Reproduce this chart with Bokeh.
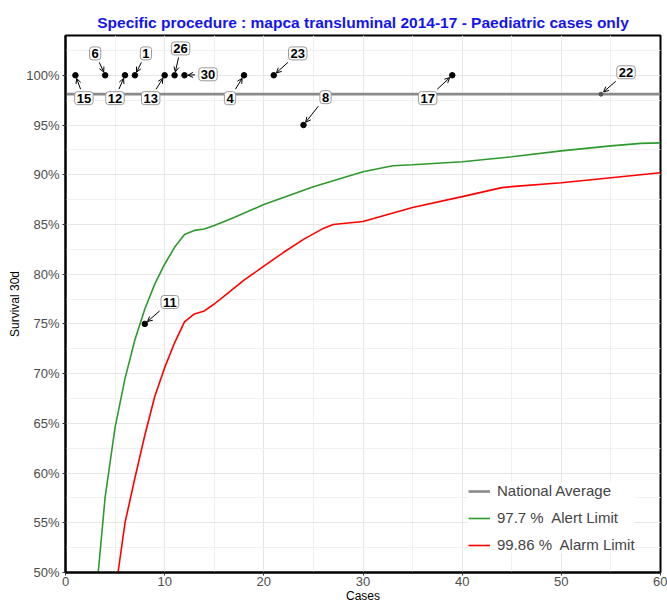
import math
from bokeh.plotting import figure
from bokeh.models import Range1d, Label, Arrow, OpenHead, Legend, LegendItem, FixedTicker
from bokeh.embed import file_html
from bokeh.resources import INLINE

TITLE = "Specific procedure : mapca transluminal 2014-17 - Paediatric cases only"
X_LABEL = "Cases"
Y_LABEL = "Survival 30d"

x_min, x_max = 0, 60
y_min, y_max = 50, 104
x_ticks = [0, 10, 20, 30, 40, 50, 60]
y_ticks = [50, 55, 60, 65, 70, 75, 80, 85, 90, 95, 100]

national_average = 98.1

alert_x = [3.3, 4, 5, 6, 7, 8, 9, 10, 11, 12, 13, 14, 15, 17, 20, 25, 30, 33, 35, 40, 45, 50, 55, 58, 60]
alert_y = [50, 57.6, 64.6, 69.5, 73.4, 76.5, 79.0, 81.0, 82.7, 84.0, 84.4, 84.55, 84.9, 85.7, 87.0,
           88.8, 90.3, 90.9, 91.0, 91.3, 91.8, 92.4, 92.9, 93.15, 93.2]

alarm_x = [5.3, 6, 7, 8, 9, 10, 11, 12, 13, 14, 15, 16, 18, 20, 22, 24, 26, 27, 30, 35, 40, 44, 45, 50, 55, 60]
alarm_y = [50, 55.0, 59.5, 63.8, 67.7, 70.6, 73.1, 75.2, 76.0, 76.3, 77.0, 77.8, 79.4, 80.8, 82.2,
           83.5, 84.6, 85.0, 85.3, 86.7, 87.8, 88.7, 88.8, 89.2, 89.7, 90.2]

case_no = [1, 4, 6, 7, 8, 10, 11, 12, 18, 21, 24, 39]
case_survival = [100, 100, 100, 100, 75, 100, 100, 100, 100, 100, 95.0, 100]
case_label = ["15", "6", "12", "1", "11", "13", "26", "30", "4", "23", "8", "17"]

current_case_no = [54]
current_survival = [98.1]
current_label = ["22"]

# label offsets in screen pixels (dx right, dy down)
label_dx = [8.5, -10, -10, 11, 25, -14, 6, 23.5, -14, 24, 22, -24.6]
label_dy = [23, -22, 23, -22, -22, 23, -27, -1, 23, -22, -28, 23]
current_dx = [25]
current_dy = [-22]

W, H = 667, 605
BL, BR, BT, BB = 65, 7, 35, 30
FW, FH = W - BL - BR, H - BT - BB
sx = FW / (x_max - x_min)
sy = FH / (y_max - y_min)

FONT = "Liberation Sans"

p = figure(width=W, height=H, output_backend="svg", toolbar_location=None,
           x_range=Range1d(x_min, x_max), y_range=Range1d(y_min, y_max),
           min_border_left=BL, min_border_right=BR, min_border_top=BT, min_border_bottom=BB)

p.title.text = TITLE
p.title.text_font = FONT
p.title.text_font_size = "15.5px"
p.title.text_font_style = "bold"
p.title.text_color = "#1414f0"
p.title.align = "center"
p.title.offset = 0
p.title.standoff = 9

p.outline_line_color = "black"
p.outline_line_width = 2
p.background_fill_color = "white"
p.border_fill_color = "white"

p.xaxis.ticker = FixedTicker(ticks=x_ticks, minor_ticks=[t + 5 for t in x_ticks[:-1]])
p.yaxis.ticker = FixedTicker(ticks=y_ticks, minor_ticks=[t + 2.5 for t in y_ticks])
p.yaxis.major_label_overrides = {t: f"{t}%" for t in y_ticks}

for ax in (p.xaxis, p.yaxis):
    ax.axis_line_color = "black"
    ax.axis_line_width = 2
    ax.major_tick_line_color = "#333333"
    ax.major_tick_out = 3
    ax.major_tick_in = 0
    ax.minor_tick_line_color = None
    ax.major_label_text_font = FONT
    ax.major_label_text_font_size = "13px"
    ax.major_label_text_color = "#4d4d4d"
    ax.axis_label_text_font = FONT
    ax.axis_label_text_font_size = "12px"
    ax.axis_label_text_font_style = "normal"
    ax.axis_label_text_color = "black"

p.xaxis.axis_label = X_LABEL
p.yaxis.axis_label = Y_LABEL
p.xaxis.major_label_standoff = 0
p.xaxis.axis_label_standoff = 0
p.yaxis.major_label_standoff = 2
p.yaxis.axis_label_standoff = 1

for g in (p.xgrid, p.ygrid):
    g.grid_line_color = "#e6e6e6"
    g.grid_line_width = 1
    g.minor_grid_line_color = "#f0f0f0"
    g.minor_grid_line_width = 1

r_nat = p.line(x=[x_min, x_max], y=[national_average, national_average], line_color="#8a8a8a", line_width=2.6)
r_alert = p.line(x=alert_x, y=alert_y, line_color="#2e9a2e", line_width=1.6)
r_alarm = p.line(x=alarm_x, y=alarm_y, line_color="#ff0000", line_width=1.6)

p.scatter(x=case_no, y=case_survival, size=5.5, color="black")
p.scatter(x=current_case_no, y=current_survival, size=4, color="#555555")


def annotate(xs, ys, texts, dxs, dys):
    for x, y, t, dx, dy in zip(xs, ys, texts, dxs, dys):
        lx = x + dx / sx
        ly = y - dy / sy
        p.add_layout(Label(x=lx, y=ly, text=t, text_align="center", text_baseline="middle",
                           text_font=FONT, text_font_size="13px", text_font_style="bold",
                           text_color="black", background_fill_color="white",
                           border_line_color="#9a9a9a", border_line_width=1,
                           padding=2, border_radius=3))
        hw = 5 + 4 * len(t)
        hh = 9
        d = math.hypot(dx, dy)
        t_box = min(hw / abs(dx) if dx else 1e9, hh / abs(dy) if dy else 1e9)
        spx, spy = dx * (1 - t_box), dy * (1 - t_box)
        epx, epy = dx / d * 3.5, dy / d * 3.5
        p.add_layout(Arrow(end=OpenHead(size=5, line_width=1, line_color="black"),
                           x_start=x + spx / sx, y_start=y - spy / sy,
                           x_end=x + epx / sx, y_end=y - epy / sy,
                           line_width=1, line_color="black"))


annotate(case_no, case_survival, case_label, label_dx, label_dy)
annotate(current_case_no, current_survival, current_label, current_dx, current_dy)

legend = Legend(items=[LegendItem(label="National Average", renderers=[r_nat]),
                       LegendItem(label="97.7 %  Alert Limit", renderers=[r_alert]),
                       LegendItem(label="99.86 %  Alarm Limit", renderers=[r_alarm])],
                location=(403, 19))
legend.label_text_font = FONT
legend.label_text_font_size = "15px"
legend.border_line_color = None
legend.background_fill_color = "white"
legend.background_fill_alpha = 1
legend.glyph_width = 22
legend.glyph_height = 16
legend.label_height = 16
legend.label_standoff = 7
legend.spacing = 10
legend.padding = 10
legend.margin = 0
p.add_layout(legend)

open("out.html", "w").write(file_html(p, INLINE))
